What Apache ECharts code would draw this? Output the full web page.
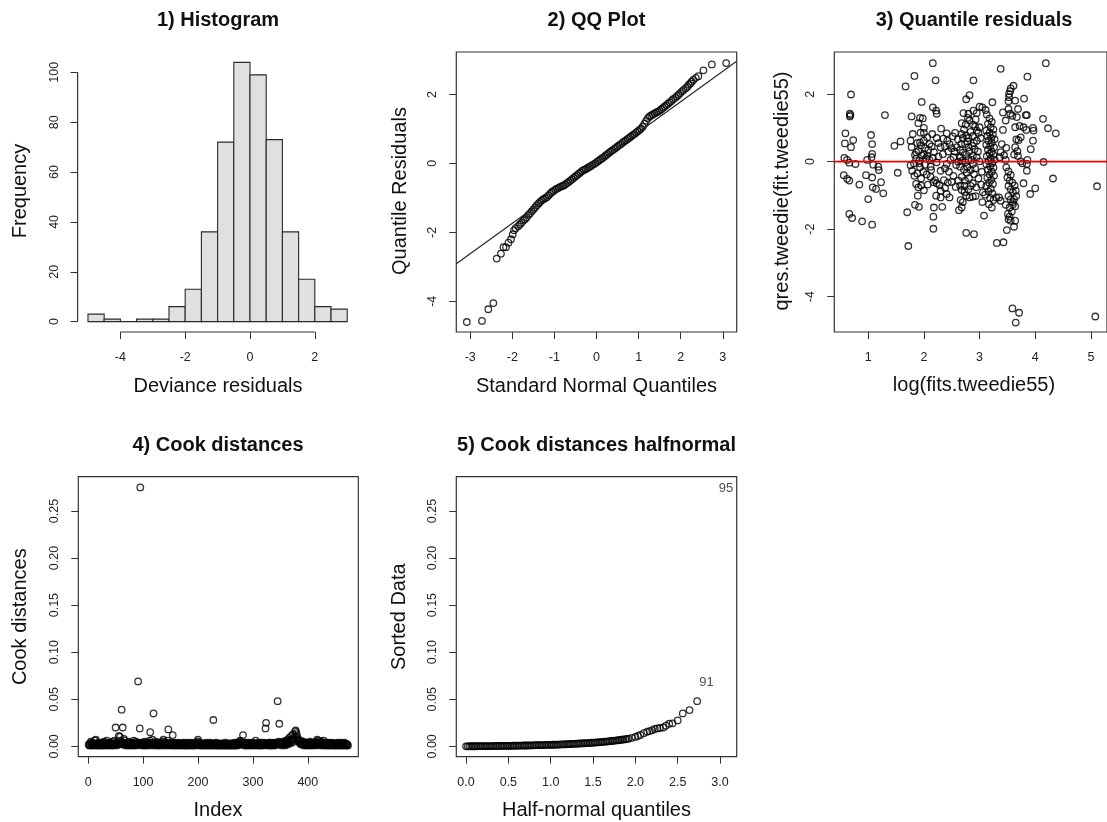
<!DOCTYPE html>
<html>
<head>
<meta charset="utf-8">
<script src="https://cdn.jsdelivr.net/npm/echarts@6/dist/echarts.min.js"></script>
<style>
  html, body { margin: 0; padding: 0; background: #fff; }
  #chart { width: 1107px; height: 822px; }
</style>
</head>
<body>
<div id="chart"></div>
<script>
// ---- 1) Histogram of deviance residuals ----
const histBreaks = [-5, -4.5, -4, -3.5, -3, -2.5, -2, -1.5, -1, -0.5, 0, 0.5, 1, 1.5, 2, 2.5, 3];
const histCounts = [3, 1, 0, 1, 1, 6, 13, 36, 72, 104, 99, 73, 36, 17, 6, 5];
const histXTicks = [-4, -2, 0, 2];
const histYTicks = [0, 20, 40, 60, 80, 100];

// ---- 2) QQ plot of quantile residuals ----
const qqTheo = [
  -3.08, -2.72, -2.57, -2.45, -2.37, -2.27, -2.21, -2.15, -2.09, -2.03, -1.99, -1.96, -1.92,
  -1.86, -1.82, -1.78, -1.74, -1.70, -1.66, -1.62, -1.58, -1.54, -1.50, -1.46, -1.42, -1.38,
  -1.34, -1.30, -1.26, -1.22, -1.18, -1.14, -1.10, -1.06, -1.02, -0.98, -0.94, -0.90, -0.86,
  -0.82, -0.78, -0.74, -0.70, -0.66, -0.62, -0.58, -0.54, -0.50, -0.46, -0.42, -0.38, -0.34,
  -0.30, -0.26, -0.22, -0.18, -0.14, -0.10, -0.06, -0.02, 0.02, 0.06, 0.10, 0.14, 0.18, 0.22,
  0.26, 0.30, 0.34, 0.38, 0.42, 0.46, 0.50, 0.54, 0.58, 0.62, 0.66, 0.70, 0.74, 0.78, 0.82,
  0.86, 0.90, 0.94, 0.98, 1.02, 1.06, 1.10, 1.14, 1.18, 1.22, 1.26, 1.30, 1.34, 1.38, 1.42,
  1.46, 1.50, 1.54, 1.58, 1.62, 1.66, 1.70, 1.74, 1.78, 1.82, 1.87, 1.91, 1.95, 1.99, 2.03,
  2.07, 2.12, 2.16, 2.19, 2.23, 2.26, 2.30, 2.36, 2.42, 2.54, 2.74, 3.08
];
const qqResid = [
  -4.60, -4.57, -4.23, -4.05, -2.76, -2.62, -2.43, -2.43, -2.30, -2.20, -2.06, -1.94, -1.88,
  -1.82, -1.77, -1.72, -1.66, -1.62, -1.57, -1.50, -1.45, -1.39, -1.34, -1.28, -1.22, -1.17,
  -1.12, -1.07, -1.04, -1.01, -0.98, -0.93, -0.88, -0.83, -0.80, -0.76, -0.73, -0.71, -0.68,
  -0.66, -0.64, -0.61, -0.57, -0.54, -0.50, -0.46, -0.42, -0.38, -0.34, -0.30, -0.26, -0.22,
  -0.19, -0.17, -0.14, -0.11, -0.08, -0.05, -0.02, 0.01, 0.05, 0.08, 0.12, 0.15, 0.19, 0.23,
  0.27, 0.31, 0.35, 0.38, 0.42, 0.45, 0.49, 0.53, 0.56, 0.60, 0.64, 0.67, 0.71, 0.74, 0.78,
  0.82, 0.85, 0.89, 0.93, 0.97, 1.01, 1.07, 1.15, 1.23, 1.31, 1.36, 1.39, 1.42, 1.45, 1.48,
  1.50, 1.53, 1.57, 1.61, 1.65, 1.69, 1.73, 1.77, 1.81, 1.86, 1.90, 1.95, 1.99, 2.04, 2.09,
  2.13, 2.18, 2.22, 2.28, 2.32, 2.37, 2.42, 2.48, 2.53, 2.70, 2.87, 2.91
];
// reference line ends (qqline), at the axis limits
const qqLineEnds = [[-3.33, -2.91], [3.33, 2.96]];
const qqXTicks = [-3, -2, -1, 0, 1, 2, 3];
const qqYTicks = [-4, -2, 0, 2];

// ---- 3) Quantile residuals vs log fitted values: [log(fit), qres] ----
const qresPoints = [
  [0.69,1.99],[0.67,1.42],[0.67,1.34],[0.68,1.38],[0.59,0.84],[0.58,0.54],[0.73,0.64],[0.69,0.43],
  [0.57,0.11],[0.62,0.05],[0.66,-0.03],[0.77,-0.07],[0.56,-0.40],[0.62,-0.51],[0.66,-0.56],[0.84,-0.68],
  [0.66,-1.55],[0.71,-1.67],[0.89,-1.77],[1.07,-1.87],[1.00,-1.11],[0.96,-0.40],[1.05,0.79],[1.07,0.52],
  [1.07,0.23],[1.06,0.13],[0.98,0.05],[1.09,-0.09],[1.18,-0.15],[1.19,-0.25],[1.07,-0.47],[1.08,-0.76],
  [1.14,-0.81],[1.23,-0.61],[1.27,-0.94],[1.30,1.38],[1.47,0.47],[1.58,0.60],[1.53,-0.33],[1.67,2.23],
  [1.70,-1.50],[1.72,-2.50],
  [1.83,2.54],[2.16,2.92],[2.21,2.41],[1.96,1.77],[2.16,1.61],[2.22,1.51],[2.23,1.42],[1.78,1.34],
  [1.93,1.30],[1.98,1.28],[1.90,1.14],[2.00,1.00],[1.80,0.82],[1.94,0.86],[1.76,0.62],[1.78,0.43],
  [1.86,0.28],[1.93,0.57],[2.00,0.62],[2.06,0.72],[2.15,0.82],[2.23,0.70],[2.31,0.98],[2.41,0.84],
  [2.46,0.52],[2.30,0.43],[2.18,0.28],[2.10,0.52],[2.00,0.23],[2.06,0.17],[1.92,0.03],[1.76,-0.11],
  [1.79,-0.27],[1.83,-0.42],[1.93,-0.17],[2.02,-0.09],[2.12,-0.15],[2.23,-0.02],[2.30,-0.27],[2.41,-0.07],
  [2.53,0.13],[2.59,0.43],[2.65,0.13],[1.86,-0.66],[1.90,-0.76],[1.95,-0.71],[1.89,-1.01],[1.84,-1.28],
  [1.91,-1.34],[2.17,-0.61],[2.23,-0.64],[2.30,-0.86],[2.38,-0.78],[2.18,-1.36],[2.17,-1.63],[2.17,-1.99],
  [2.30,-1.06],[2.22,-1.01],[2.33,-1.34],[2.41,-0.96],[2.46,-1.06],[2.53,-0.42],[2.62,-0.56],
  [1.88,0.55],[1.95,0.48],[2.02,0.40],[2.08,0.35],[2.14,0.45],[1.90,0.32],[1.97,0.18],[2.04,0.10],
  [2.10,0.05],[2.16,0.12],[1.86,0.08],[1.92,-0.05],[1.99,-0.30],[2.05,-0.38],[2.12,-0.45],[2.20,-0.55],
  [1.88,-0.35],[1.95,-0.50],[2.26,0.15],[2.34,0.22],[2.38,-0.20],[2.45,-0.30],[2.50,-0.60],[2.55,0.30],
  [2.58,-0.10],[2.48,0.05],[2.36,-0.55],[2.28,-0.70],[2.42,0.62],[2.52,0.75],[2.56,0.85],[2.44,0.30],
  [2.50,0.40],[2.57,-0.75],[2.43,-0.62],[2.35,0.68],[2.26,0.55],[2.38,0.45],[2.00,0.85],[1.84,0.20],
  [1.82,-0.05],[2.07,-0.68],[2.00,-0.85],[2.13,-0.25],
  [2.89,2.41],[2.76,1.85],[2.82,1.97],[2.71,1.44],[2.80,1.42],[2.89,1.51],[2.95,1.44],[3.00,1.63],
  [3.05,1.61],[3.11,1.53],[3.23,1.76],[2.68,1.14],[2.75,1.10],[2.82,1.22],[2.88,1.10],[2.92,1.04],
  [2.95,0.92],[3.00,1.02],[2.68,0.82],[2.76,0.77],[2.80,0.70],[2.88,0.76],[2.95,0.62],[2.61,0.66],
  [2.67,0.52],[2.74,0.52],[2.80,0.43],[2.87,0.47],[2.91,0.37],[2.65,0.35],[2.70,0.27],[2.76,0.21],
  [2.82,0.31],[2.88,0.17],[2.65,0.13],[2.69,0.03],[2.75,-0.02],[2.80,0.08],[2.88,-0.07],[2.95,0.13],
  [3.00,0.01],[2.65,-0.15],[2.72,-0.23],[2.77,-0.33],[2.84,-0.25],[2.90,-0.37],[2.68,-0.45],[2.74,-0.56],
  [2.81,-0.49],[2.88,-0.64],[2.94,-0.76],[2.73,-0.71],[2.80,-0.82],[2.65,-0.71],[2.68,-0.84],[2.76,-1.01],
  [2.82,-1.06],[2.88,-1.04],[2.93,-1.02],[2.66,-1.14],[2.70,-1.20],[2.63,-1.44],[2.68,-1.36],[2.76,-2.11],
  [2.90,-2.15],[3.03,-0.68],[3.06,-0.91],[3.05,-1.20],[3.08,-1.60],[3.17,-1.26],[3.22,-1.36],[3.30,-1.06],
  [2.72,0.95],[2.78,0.60],[2.84,0.88],[2.90,0.55],[2.97,0.30],[2.70,0.70],[2.86,0.05],[2.92,-0.20],
  [2.98,-0.50],[2.73,-0.90],[2.84,-0.72],[2.78,-0.15],[2.62,0.00],[2.93,1.25],[2.79,1.30],[3.02,0.70],
  [3.04,-0.30],[2.98,0.85],
  [3.13,1.40],[3.18,1.28],[3.22,1.18],[3.15,1.12],[3.20,1.02],[3.25,0.95],[3.12,0.92],[3.18,0.86],
  [3.24,0.80],[3.14,0.76],[3.21,0.70],[3.27,0.66],[3.16,0.62],[3.22,0.56],[3.12,0.50],[3.19,0.46],
  [3.26,0.42],[3.15,0.36],[3.22,0.30],[3.18,0.24],[3.25,0.20],[3.13,0.16],[3.20,0.10],[3.27,0.06],
  [3.16,0.02],[3.23,-0.04],[3.12,-0.08],[3.19,-0.14],[3.25,-0.18],[3.15,-0.24],[3.22,-0.30],[3.18,-0.38],
  [3.26,-0.42],[3.14,-0.48],[3.21,-0.54],[3.17,-0.62],[3.24,-0.66],[3.12,-0.72],[3.20,-0.80],[3.16,-0.88],
  [3.23,-0.94],[3.10,-0.98],[3.19,-1.08],[3.25,-1.14],
  [3.38,2.75],[3.56,2.17],[3.55,2.09],[3.53,2.01],[3.53,1.91],[3.61,2.25],[3.52,1.79],[3.64,1.81],
  [3.69,1.56],[3.80,1.87],[3.86,2.52],[3.52,1.56],[3.55,1.42],[3.59,1.36],[3.42,1.46],[3.47,1.22],
  [3.42,0.94],[3.67,1.32],[3.83,1.38],[3.85,1.38],[3.64,1.02],[3.72,1.06],[3.79,1.02],[3.84,0.94],
  [3.96,1.00],[3.97,0.92],[3.74,0.72],[3.70,0.64],[3.66,0.66],[3.96,0.62],[3.92,0.37],[4.14,1.27],
  [4.19,2.92],[4.23,0.99],[4.37,0.84],[4.15,-0.01],[4.32,-0.50],[3.40,0.52],[3.48,0.41],[3.38,0.28],
  [3.44,0.19],[3.36,0.13],[3.47,0.05],[3.64,0.43],[3.68,0.31],[3.62,0.21],[3.69,0.17],[3.74,0.01],
  [3.77,-0.05],[3.86,0.05],[3.85,-0.07],[3.85,-0.27],[3.79,-0.64],[3.91,-0.96],[4.00,-0.79],[3.35,-1.06],
  [3.38,-1.16],[3.48,-0.17],[3.52,-0.29],[3.56,-0.39],[3.50,-0.47],[3.54,-0.56],[3.59,-0.62],[3.52,-0.72],
  [3.56,-0.82],[3.60,-0.91],[3.52,-1.02],[3.56,-1.12],[3.60,-1.20],[3.47,-1.28],[3.54,-1.36],[3.58,-1.48],
  [3.51,-1.55],[3.54,-1.63],[3.52,-1.71],[3.56,-1.75],[3.63,-0.71],[3.65,-0.86],[3.66,-1.02],[3.62,-1.12],
  [3.60,-1.26],[3.64,-1.32],[3.64,-1.75],[3.62,-1.93],[3.49,-2.03],[3.31,-2.41],[3.43,-2.39],[3.59,-4.35],
  [3.71,-4.48],[3.65,-4.77],[5.08,-4.59],[5.11,-0.73]
];
const qresXTicks = [1, 2, 3, 4, 5];
const qresYTicks = [-4, -2, 0, 2];
const qresZero = 0;

// ---- 4) Cook distances by observation index (1..473) ----
const cookD = [
  .002,.001,.003,.001,.005,.002,.004,.001,.002,.001,
  .003,.006,.002,.007,.001,.002,.003,.001,.004,.002,
  .001,.003,.002,.001,.004,.002,.001,.003,.005,.002,
  .001,.002,.004,.006,.002,.001,.003,.002,.001,.004,
  .002,.003,.001,.005,.002,.001,.003,.006,.002,.020,
  .003,.001,.004,.002,.006,.011,.003,.010,.002,.005,
  .039,.004,.020,.003,.008,.002,.006,.001,.003,.002,
  .004,.001,.002,.005,.003,.001,.002,.004,.001,.003,
  .002,.004,.006,.001,.003,.002,.005,.001,.002,.003,
  .069,.002,.004,.019,.275,.003,.001,.004,.002,.003,
  .001,.003,.005,.002,.001,.004,.002,.003,.001,.002,
  .004,.006,.015,.002,.003,.001,.007,.002,.035,.004,
  .002,.001,.003,.005,.002,.001,.003,.002,.004,.001,
  .002,.003,.001,.004,.002,.005,.007,.002,.001,.003,
  .002,.004,.001,.003,.006,.018,.002,.001,.003,.002,
  .004,.001,.002,.012,.003,.001,.002,.004,.001,.003,
  .002,.001,.003,.002,.004,.001,.002,.003,.001,.002,
  .003,.001,.002,.004,.001,.002,.003,.001,.002,.001,
  .004,.002,.001,.003,.002,.001,.004,.002,.003,.001,
  .002,.001,.003,.002,.004,.001,.002,.003,.005,.007,
  .003,.002,.001,.004,.002,.001,.003,.002,.001,.002,
  .001,.003,.002,.001,.004,.002,.001,.002,.003,.001,
  .002,.004,.001,.002,.003,.001,.002,.028,.003,.001,
  .002,.001,.004,.002,.001,.003,.002,.001,.002,.001,
  .003,.001,.002,.001,.002,.003,.001,.002,.001,.004,
  .001,.002,.001,.003,.001,.002,.001,.002,.003,.001,
  .002,.001,.003,.001,.002,.004,.001,.002,.001,.003,
  .002,.004,.001,.003,.005,.002,.006,.003,.004,.002,
  .003,.012,.002,.004,.001,.003,.002,.001,.004,.002,
  .001,.003,.002,.004,.001,.002,.003,.001,.002,.004,
  .002,.001,.003,.002,.006,.003,.001,.002,.004,.001,
  .002,.003,.001,.002,.004,.001,.003,.002,.001,.004,
  .002,.003,.019,.025,.002,.001,.003,.002,.004,.001,
  .002,.004,.001,.003,.002,.001,.004,.002,.003,.001,
  .002,.003,.004,.002,.048,.003,.005,.024,.002,.004,
  .003,.001,.004,.002,.005,.003,.002,.004,.001,.006,
  .003,.005,.002,.007,.004,.009,.003,.006,.005,.011,
  .007,.004,.013,.008,.006,.010,.016,.017,.014,.012,
  .009,.006,.007,.005,.004,.003,.006,.002,.004,.003,
  .002,.005,.001,.003,.004,.002,.001,.003,.002,.004,
  .001,.003,.002,.005,.001,.002,.004,.003,.001,.002,
  .004,.002,.003,.001,.005,.002,.007,.003,.004,.006,
  .002,.001,.004,.003,.005,.002,.001,.003,.006,.002,
  .001,.004,.002,.003,.001,.002,.004,.001,.003,.002,
  .001,.003,.002,.004,.001,.002,.003,.001,.002,.001,
  .003,.002,.001,.004,.002,.001,.003,.002,.004,.001,
  .002,.001,.003,.002,.001,.004,.002,.001,.003,.002,
  .001,.002,.001
];
const cookXTicks = [0, 100, 200, 300, 400];
const cookYTicks = [0, 0.05, 0.10, 0.15, 0.20, 0.25];

// ---- 5) Half-normal plot of Cook distances ----
const halfQuant = [
  0.00,0.02,0.04,0.06,0.08,0.10,0.12,0.14,0.16,0.18,0.20,0.22,0.24,0.26,0.28,0.30,0.32,0.34,0.36,0.38,
  0.40,0.42,0.44,0.46,0.48,0.50,0.52,0.54,0.56,0.58,0.60,0.62,0.64,0.66,0.68,0.70,0.72,0.74,0.76,0.78,
  0.80,0.82,0.84,0.86,0.88,0.90,0.92,0.94,0.96,0.98,1.00,1.02,1.04,1.06,1.08,1.10,1.12,1.14,1.16,1.18,
  1.20,1.22,1.24,1.26,1.28,1.30,1.32,1.34,1.36,1.38,1.40,1.42,1.44,1.46,1.48,1.50,1.52,1.54,1.56,1.58,
  1.60,1.62,1.64,1.66,1.68,1.70,1.72,1.74,1.76,1.78,1.80,1.82,1.84,1.86,1.88,1.90,1.92,
  1.96,2.00,2.03,2.06,2.10,2.14,2.17,2.20,2.23,2.26,2.29,2.33,2.36,2.40,2.44,2.50,2.56,2.64,2.73
];
const sortedCook = [
  .0000,.0000,.0001,.0001,.0001,.0001,.0001,.0002,.0002,.0002,.0002,.0002,.0003,.0003,.0003,.0003,.0003,.0004,.0004,.0004,
  .0004,.0005,.0005,.0005,.0005,.0006,.0006,.0006,.0007,.0007,.0007,.0008,.0008,.0008,.0009,.0009,.0009,.0010,.0010,.0011,
  .0011,.0012,.0012,.0013,.0013,.0014,.0014,.0015,.0015,.0016,.0016,.0017,.0017,.0018,.0019,.0019,.0020,.0021,.0021,.0022,
  .0023,.0024,.0025,.0026,.0027,.0028,.0029,.0030,.0031,.0032,.0033,.0034,.0035,.0036,.0038,.0039,.0040,.0042,.0043,.0045,
  .0046,.0048,.0050,.0051,.0053,.0055,.0057,.0059,.0061,.0063,.0066,.0068,.0070,.0073,.0075,.0078,.0081,
  .0090,.0100,.0110,.0121,.0140,.0155,.0162,.0172,.0185,.0190,.0195,.0200,.0220,.0240,.0245,.0275,.0350,.0385,.0480
];
// the two largest distances are shown by their observation number
const halfLabels = [
  { name: '91', value: [2.84, 0.068] },
  { name: '95', value: [3.07, 0.274] }
];
const halfXTicks = [0, 0.5, 1.0, 1.5, 2.0, 2.5, 3.0];

// ---- layout ----
const FONT = '"Liberation Sans", Arial, Helvetica, sans-serif';
const INK = '#222';
const grids = [
  { left: 77.6, top: 52, width: 280, height: 280 },
  { left: 456.3, top: 52, width: 280.4, height: 280 },
  { left: 834.3, top: 52, width: 280, height: 280 },
  { left: 78.3, top: 476.7, width: 280, height: 280 },
  { left: 456.3, top: 476.7, width: 280.4, height: 280 }
];
const boxed = [false, true, true, true, true];

function axis(gridIndex, min, max, ticks, fmt, isY) {
  return {
    type: 'value', gridIndex, min, max,
    axisLine: { show: false, onZero: false },
    splitLine: { show: false },
    axisTick: { show: true, inside: false, length: 7, customValues: ticks,
      lineStyle: { color: '#333', width: 1 } },
    axisLabel: { show: true, customValues: ticks, formatter: fmt,
      rotate: isY ? 90 : 0, margin: isY ? 17 : 19,
      color: INK, fontSize: 12.5, fontFamily: FONT }
  };
}
const plain = v => String(v);
const two = v => v.toFixed(2);
const one = v => v.toFixed(1);

const xRange = [[-5.32, 3.32], [-3.33, 3.33], [0.39, 5.29], [-17.9, 491.9], [-0.115, 3.197]];
const yRange = [[-4.16, 108.16], [-4.89, 3.23], [-5.05, 3.25], [-0.011, 0.2864], [-0.011, 0.2864]];

const xAxes = [
  axis(0, xRange[0][0], xRange[0][1], histXTicks, plain, false),
  axis(1, xRange[1][0], xRange[1][1], qqXTicks, plain, false),
  axis(2, xRange[2][0], xRange[2][1], qresXTicks, plain, false),
  axis(3, xRange[3][0], xRange[3][1], cookXTicks, plain, false),
  axis(4, xRange[4][0], xRange[4][1], halfXTicks, one, false)
];
const yAxes = [
  axis(0, yRange[0][0], yRange[0][1], histYTicks, plain, true),
  axis(1, yRange[1][0], yRange[1][1], qqYTicks, plain, true),
  axis(2, yRange[2][0], yRange[2][1], qresYTicks, plain, true),
  axis(3, yRange[3][0], yRange[3][1], cookYTicks, two, true),
  axis(4, yRange[4][0], yRange[4][1], cookYTicks, two, true)
];

const circle = {
  symbol: 'circle', symbolSize: 6.5,
  itemStyle: { color: 'rgba(0,0,0,0)', borderColor: '#000', borderWidth: 1.3 }
};
const thinLine = (color, width) => ({ type: 'line', symbol: 'none', silent: true,
  lineStyle: { color, width: width || 1 }, animation: false });

const series = [
  {
    type: 'custom', xAxisIndex: 0, yAxisIndex: 0, silent: true,
    data: histCounts.map((c, i) => [histBreaks[i], histBreaks[i + 1], c]),
    renderItem: (params, api) => {
      const p0 = api.coord([api.value(0), api.value(2)]);
      const p1 = api.coord([api.value(1), 0]);
      return { type: 'rect',
        shape: { x: p0[0], y: p0[1], width: p1[0] - p0[0], height: p1[1] - p0[1] },
        style: { fill: '#e0e0e0', stroke: '#2a2a2a', lineWidth: 1.1 } };
    }
  },
  // R-style axis lines that stop at the outer ticks
  Object.assign(thinLine('#333', 1.2), { xAxisIndex: 0, yAxisIndex: 0, clip: false,
    data: [[histXTicks[0], yRange[0][0]], [histXTicks[histXTicks.length - 1], yRange[0][0]]] }),
  Object.assign(thinLine('#333', 1.2), { xAxisIndex: 0, yAxisIndex: 0, clip: false,
    data: [[xRange[0][0], histYTicks[0]], [xRange[0][0], histYTicks[histYTicks.length - 1]]] }),

  Object.assign({ type: 'scatter', xAxisIndex: 1, yAxisIndex: 1, silent: true,
    data: qqTheo.map((x, i) => [x, qqResid[i]]) }, circle),
  Object.assign(thinLine('#222', 1.1), { xAxisIndex: 1, yAxisIndex: 1, clip: true, data: qqLineEnds }),

  Object.assign({ type: 'scatter', xAxisIndex: 2, yAxisIndex: 2, silent: true, data: qresPoints }, circle),
  Object.assign(thinLine('#ff0000', 1.6), { xAxisIndex: 2, yAxisIndex: 2, clip: true, z: 5,
    data: [[xRange[2][0], qresZero], [xRange[2][1], qresZero]] }),

  Object.assign({ type: 'scatter', xAxisIndex: 3, yAxisIndex: 3, silent: true,
    data: cookD.map((v, i) => [i + 1, v]) }, circle),

  Object.assign({ type: 'scatter', xAxisIndex: 4, yAxisIndex: 4, silent: true,
    data: halfQuant.map((x, i) => [x, sortedCook[i]]) }, circle),
  { type: 'scatter', xAxisIndex: 4, yAxisIndex: 4, silent: true, symbolSize: 0,
    data: halfLabels,
    label: { show: true, position: 'inside', formatter: p => p.name,
      color: INK, fontSize: 13, fontFamily: FONT } }
];

function txt(text, x, y, size, bold, rot) {
  return { type: 'text', x, y, rotation: rot || 0, silent: true,
    style: { text, font: (bold ? 'bold ' : '') + size + 'px ' + FONT, fill: '#111',
      align: 'center', verticalAlign: 'middle', textAlign: 'center', textVerticalAlign: 'middle' } };
}
const R = Math.PI / 2;
const graphic = [
  txt('1) Histogram', 218, 20, 20, true),
  txt('2) QQ Plot', 596.5, 20, 20, true),
  txt('3) Quantile residuals', 974, 20, 20, true),
  txt('4) Cook distances', 218, 445, 20, true),
  txt('5) Cook distances halfnormal', 596.5, 445, 20, true),
  txt('Frequency', 20, 191, 20, false, R),
  txt('Deviance residuals', 218, 386, 20, false),
  txt('Quantile Residuals', 400, 191, 20, false, R),
  txt('Standard Normal Quantiles', 596.5, 386, 20, false),
  txt('qres.tweedie(fit.tweedie55)', 782, 191, 20, false, R),
  txt('log(fits.tweedie55)', 974, 385, 20, false),
  txt('Cook distances', 20, 616.7, 20, false, R),
  txt('Index', 218, 810, 20, false),
  txt('Sorted Data', 399, 616.7, 20, false, R),
  txt('Half-normal quantiles', 596.5, 810, 20, false)
];

const chart = echarts.init(document.getElementById('chart'), null, { renderer: 'canvas' });
chart.setOption({
  animation: false,
  backgroundColor: '#ffffff',
  grid: grids.map((g, i) => Object.assign({ show: boxed[i], borderColor: '#333', borderWidth: 1.2,
    backgroundColor: 'transparent', containLabel: false }, g)),
  xAxis: xAxes,
  yAxis: yAxes,
  series,
  graphic
});
</script>
</body>
</html>
